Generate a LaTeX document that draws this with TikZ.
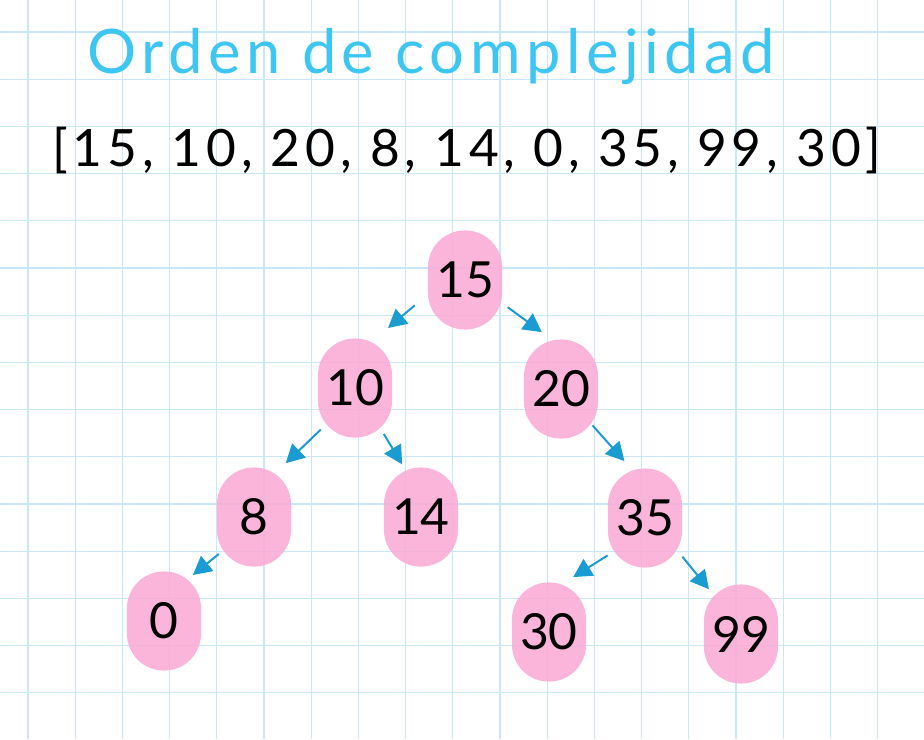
\documentclass[tikz,border=0pt]{standalone}
\usepackage{xcolor}
\usepackage{fontspec}
\usepackage{tikz}
\usetikzlibrary{arrows.meta}
\setmainfont{Lato}
\newfontfamily\titlefont[LetterSpace=9]{Lato}
\newfontfamily\listfont[LetterSpace=9.5]{Lato}
\definecolor{gridBlue}{HTML}{C8E8F8}
\definecolor{nodePink}{HTML}{FBA9D4}
\definecolor{arrowBlue}{HTML}{1A9BD2}
\definecolor{titleCyan}{HTML}{3EC6F2}

\begin{document}
\begin{tikzpicture}[
    keynode/.style={rectangle, rounded corners=0.78cm, minimum width=1.57cm, minimum height=2.1cm,
                    inner sep=0pt, fill=nodePink, fill opacity=0.85, text opacity=1,
                    font=\fontsize{30}{30}\selectfont},
    arrow/.style={-{Triangle[length=3.9mm, width=4.1mm]}, line width=1.2pt, color=arrowBlue},
    gridline/.style={draw=gridBlue, line width=0.7pt}
]
\useasboundingbox (0,0) rectangle (19.576,15.657);
\fill[white] (0,0) rectangle (19.576,15.657);

% Squared paper
\draw[gridline, xshift=0.593cm, yshift=-0.021cm] (-0.593,0.021) grid (18.983,15.678);

% Title and input list
\node[anchor=base, text=titleCyan, font=\titlefont\fontsize{37}{37}\selectfont] (title) at (9.14,14.11) {Orden de complejidad};
\node[anchor=base, font=\listfont\fontsize{31}{31}\selectfont] (list) at (9.89,12.12) {[15, 10, 20, 8, 14, 0, 35, 99, 30]};

% Tree
\node[keynode] (n15) at (9.852,9.725) {15};
\node[keynode] (n10) at (7.521,7.436) {10};
\node[keynode] (n20) at (11.886,7.415) {20};
\node[keynode] (n8)  at (5.381,4.703) {8};
\node[keynode] (n14) at (8.919,4.703) {14};
\node[keynode] (n35) at (13.665,4.682) {35};
\node[keynode] (n0)  at (3.475,2.500) {0};
\node[keynode] (n30) at (11.631,2.267) {30};
\node[keynode] (n99) at (15.699,2.225) {99};

% Arrows
\draw[arrow, shorten <=0.36cm, shorten >=0.33cm] (n15.201) -- (n10.67);
\draw[arrow, shorten <=0.14cm, shorten >=0.25cm] (n15.328) -- (n20.101);
\draw[arrow, shorten <=-0.09cm, shorten >=0.12cm] (n10.230) -- (n8.61);
\draw[arrow, shorten <=-0.1cm, shorten >=0.07cm] (n10.302) -- (n14.109);
\draw[arrow, shorten <=-0.19cm, shorten >=0.2cm] (n20.311) -- (n35.106);
\draw[arrow, shorten <=-0.06cm, shorten >=-0.13cm] (n8.226) -- (n0.56);
\draw[arrow, shorten >=0.2cm] (n35.225) -- (n30.72);
\draw[arrow, shorten >=-0.14cm] (n35.314) -- (n99.126);

\end{tikzpicture}
\end{document}
